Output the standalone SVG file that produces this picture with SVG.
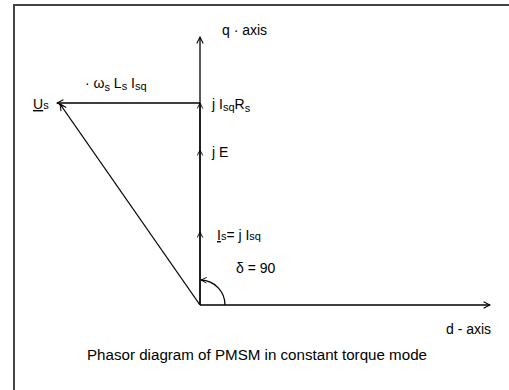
<svg xmlns="http://www.w3.org/2000/svg" width="509" height="390" viewBox="0 0 509 390">
<defs>
<marker id="ah" viewBox="0 0 10 10" refX="9" refY="5" markerWidth="8" markerHeight="8" orient="auto" markerUnits="userSpaceOnUse">
<path d="M1,1 L9,5 L1,9" fill="none" stroke="#000" stroke-width="1.3"/>
</marker>
<marker id="ahs" viewBox="0 0 10 10" refX="9" refY="5" markerWidth="7" markerHeight="7" orient="auto" markerUnits="userSpaceOnUse">
<path d="M1,1 L9,5 L1,9" fill="none" stroke="#000" stroke-width="1.3"/>
</marker>
</defs>
<style>
text{font-family:"Liberation Sans","DejaVu Sans",sans-serif;font-size:14px;fill:#000}
.sub{font-size:11px}
.ln{stroke:#000;stroke-width:1.3;fill:none}
.frame{stroke:#444;stroke-width:2;fill:none}
</style>
<rect width="509" height="390" fill="#fff"/>
<path class="frame" d="M14,390 V5 H509"/>
<g id="connectors">
<line id="q-axis" class="ln" x1="200" y1="305" x2="200" y2="37" marker-end="url(#ah)"/>
<line id="d-axis" class="ln" x1="200" y1="305" x2="490" y2="305" marker-end="url(#ah)"/>
<line id="Is-vec" class="ln" x1="200" y1="305" x2="200" y2="232" marker-end="url(#ahs)"/>
<line id="jE-vec" class="ln" x1="200" y1="232" x2="200" y2="150" marker-end="url(#ahs)"/>
<line id="jR-vec" class="ln" x1="200" y1="150" x2="200" y2="103" marker-end="url(#ahs)"/>
<line id="wL-vec" class="ln" x1="200" y1="103" x2="57" y2="103" marker-end="url(#ah)"/>
<line id="Us-vec" class="ln" x1="200" y1="305" x2="60" y2="104" marker-end="url(#ah)"/>
<path id="delta-arc" class="ln" d="M225,305 A25,25 0 0 0 201,280" marker-end="url(#ahs)"/>
</g>
<g id="labels">
<text x="222" y="35">q · axis</text>
<text x="85" y="88">· ω<tspan class="sub" dy="3">s</tspan><tspan dy="-3"> L</tspan><tspan class="sub" dy="2">s</tspan><tspan dy="-2"> I</tspan><tspan class="sub" dy="2">sq</tspan></text>
<text x="33" y="109"><tspan text-decoration="underline">U</tspan><tspan class="sub">s</tspan></text>
<text x="212" y="109">j I<tspan class="sub" dy="2">sq</tspan><tspan dy="-2">R</tspan><tspan class="sub" dy="3">s</tspan></text>
<text x="212" y="157">j E</text>
<text x="217" y="240"><tspan text-decoration="underline">I</tspan><tspan class="sub">s</tspan>= j I<tspan class="sub">sq</tspan></text>
<text x="236" y="273">δ = 90</text>
<text x="446" y="334">d - axis</text>
<text x="87" y="360" textLength="340" lengthAdjust="spacingAndGlyphs">Phasor diagram of PMSM in constant torque mode</text>
</g>
</svg>
